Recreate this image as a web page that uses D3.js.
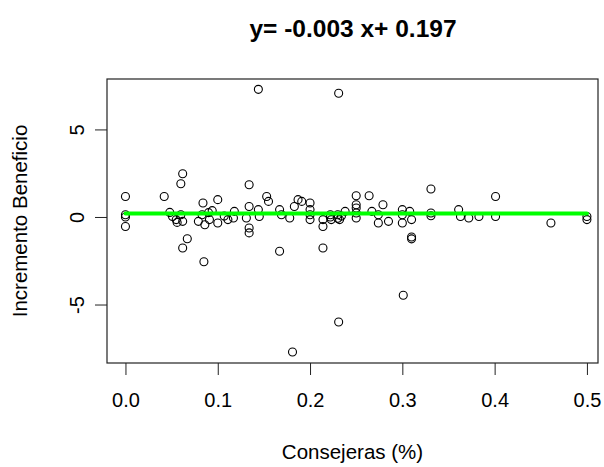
<!DOCTYPE html>
<html>
<head>
<meta charset="utf-8">
<script src="https://cdn.jsdelivr.net/npm/d3@7"></script>
<style>
    body { margin: 0; background: #fff; }
    svg text { font-family: "Liberation Sans", Arial, sans-serif; fill: #000; }
</style>
</head>
<body>
<svg id="chart" width="604" height="467"></svg>
<script>
// share of women on the board vs. change in profit
const consejeras = [
    0, 0, 0, 0, 0.042, 0.062, 0.060, 0.048, 0.051, 0.055, 0.056, 0.060, 0.062, 0.067, 0.062,
    0.085, 0.084, 0.079, 0.086, 0.083, 0.134, 0.153, 0.155, 0.134, 0.134, 0.134, 0.167,
    0.100, 0.100, 0.091, 0.094, 0.111, 0.117, 0.118, 0.131, 0.144, 0.145, 0.167, 0.169,
    0.178, 0.183, 0.187, 0.191, 0.200, 0.200, 0.200, 0.200, 0.214, 0.214, 0.214, 0.222,
    0.223, 0.230, 0.232, 0.238, 0.250, 0.264, 0.250, 0.250, 0.250, 0.250, 0.267, 0.274,
    0.274, 0.279, 0.285, 0.331, 0.300, 0.300, 0.300, 0.308, 0.310, 0.310, 0.310, 0.331,
    0.331, 0.361, 0.363, 0.372, 0.383, 0.401, 0.401, 0.461, 0.500, 0.500,
    0.144, 0.231, 0.231, 0.301, 0.181, 0.222, 0.230, 0.234, 0.090, 0.107
];
const incremento = [
    1.17, 0.13, 0.00, -0.54, 1.17, 2.47, 1.90, 0.26, 0.03, -0.15, -0.31, 0.13, -0.25, -1.24, -1.77,
    -2.56, 0.80, -0.25, -0.44, 0.13, 1.84, 1.17, 0.89, 0.60, -0.63, -0.91, -1.96,
    0.99, -0.34, -0.15, 0.36, -0.15, -0.06, 0.32, -0.06, 0.42, 0.03, 0.42, 0.13,
    -0.06, 0.60, 0.99, 0.89, 0.80, 0.42, 0.13, -0.15, -0.15, -0.54, -1.77, 0.13,
    -0.15, 0.13, -0.15, 0.32, 1.21, 1.21, 0.70, 0.51, 0.23, -0.06, 0.32, 0.13,
    -0.34, 0.70, -0.25, 1.60, 0.42, 0.13, -0.34, 0.32, -0.15, -1.14, -1.25, 0.23,
    0.07, 0.42, 0.03, -0.06, 0.03, 1.17, 0.03, -0.34, 0.03, -0.15,
    7.29, 7.07, -6.00, -4.47, -7.71, 0.00, -0.08, 0.05, 0.25, 0.05
];

// fitted line from the title
const slope = -0.003;
const intercept = 0.197;
const xTicks = [0, 0.1, 0.2, 0.3, 0.4, 0.5];
const yTicks = [-5, 0, 5];

const box = {left: 107, right: 598, top: 79, bottom: 363};

const svg = d3.select("#chart");

const x = d3.scaleLinear().domain([-0.02, 0.512]).range([box.left, box.right]);
const y = d3.scaleLinear().domain([-8.34, 7.88]).range([box.bottom, box.top]);

// axes, R style: tick marks and labels outside the box
const xAxis = d3.axisBottom(x)
    .tickValues(xTicks)
    .tickSize(12)
    .tickPadding(18)
    .tickFormat(d3.format(".1f"));

const yAxis = d3.axisLeft(y)
    .tickValues(yTicks)
    .tickSize(12)
    .tickSizeOuter(0);

const gx = svg.append("g")
    .attr("transform", `translate(0, ${box.bottom})`)
    .call(xAxis);
gx.select(".domain").remove();
gx.selectAll("line").attr("stroke", "#222").attr("stroke-width", 1);
gx.selectAll("text").style("font-size", "20px");

const gy = svg.append("g")
    .attr("transform", `translate(${box.left}, 0)`)
    .call(yAxis);
gy.select(".domain").remove();
gy.selectAll("line").attr("stroke", "#222").attr("stroke-width", 1);
gy.selectAll("text").remove();
gy.selectAll(".tick").append("text")
    .attr("transform", "translate(-30, 0) rotate(-90)")
    .attr("text-anchor", "middle")
    .attr("dy", "0.35em")
    .style("font-size", "20px")
    .text(d => String(d));

// frame
svg.append("rect")
    .attr("x", box.left)
    .attr("y", box.top)
    .attr("width", box.right - box.left)
    .attr("height", box.bottom - box.top)
    .attr("fill", "none")
    .attr("stroke", "#222")
    .attr("stroke-width", 1.2);

// points
svg.append("g")
    .selectAll("circle")
    .data(consejeras.map((d, i) => ({x: d, y: incremento[i]})))
    .enter().append("circle")
        .attr("cx", d => x(d.x))
        .attr("cy", d => y(d.y))
        .attr("r", 4)
        .attr("fill", "none")
        .attr("stroke", "#000")
        .attr("stroke-width", 1.1);

// regression line over the x range of the data
const xr = d3.extent(consejeras);
svg.append("line")
    .attr("x1", x(xr[0]))
    .attr("y1", y(intercept + slope * xr[0]))
    .attr("x2", x(xr[1]))
    .attr("y2", y(intercept + slope * xr[1]))
    .attr("stroke", "#00ff00")
    .attr("stroke-width", 4)
    .attr("stroke-linecap", "round");

// titles
svg.append("text")
    .attr("x", 353)
    .attr("y", 37)
    .attr("text-anchor", "middle")
    .style("font-size", "24.5px")
    .style("font-weight", "bold")
    .text(`y= ${slope} x+ ${intercept}`);

svg.append("text")
    .attr("x", (box.left + box.right) / 2)
    .attr("y", 459)
    .attr("text-anchor", "middle")
    .style("font-size", "20.5px")
    .text("Consejeras (%)");

svg.append("text")
    .attr("transform", `translate(27, ${(box.top + box.bottom) / 2}) rotate(-90)`)
    .attr("text-anchor", "middle")
    .style("font-size", "20.5px")
    .text("Incremento Beneficio");
</script>
</body>
</html>
